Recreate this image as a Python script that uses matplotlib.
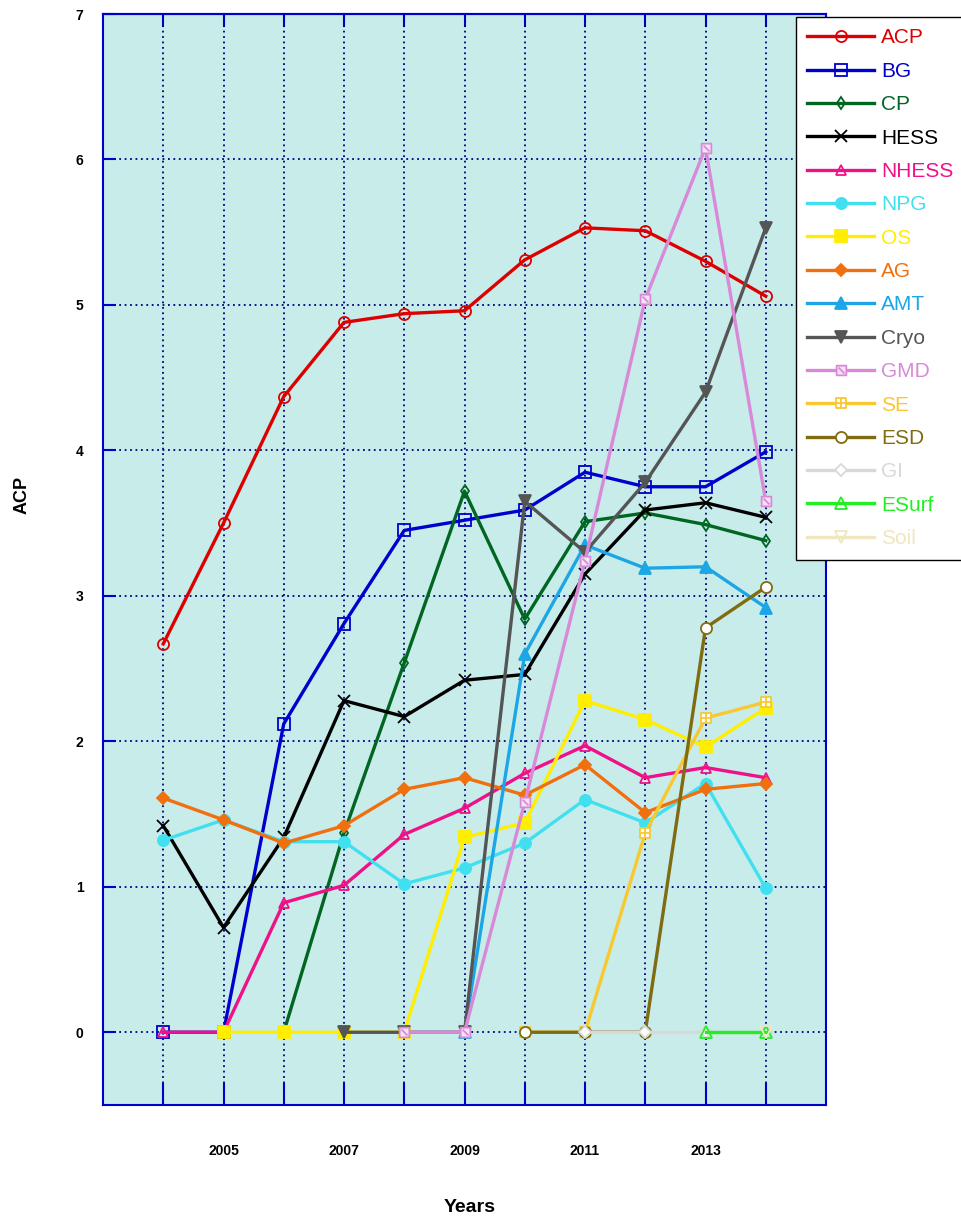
import numpy as np
import matplotlib
matplotlib.use('Agg')
import matplotlib.pyplot as plt
from matplotlib.path import Path

plt.rcParams['font.family'] = ['Liberation Sans', 'DejaVu Sans']

nan = np.nan
years = list(range(2004, 2015))

acp = [2.67, 3.50, 4.37, 4.88, 4.94, 4.96, 5.31, 5.53, 5.51, 5.30, 5.06]
bg = [0, 0, 2.12, 2.81, 3.45, 3.52, 3.59, 3.85, 3.75, 3.75, 3.99]
cp = [nan, nan, 0, 1.37, 2.54, 3.72, 2.84, 3.51, 3.57, 3.49, 3.38]
hess = [1.42, 0.72, 1.34, 2.28, 2.17, 2.42, 2.46, 3.15, 3.59, 3.64, 3.54]
nhess = [0, 0, 0.89, 1.01, 1.36, 1.54, 1.78, 1.97, 1.75, 1.82, 1.75]
npg = [1.32, 1.46, 1.31, 1.31, 1.02, 1.13, 1.30, 1.60, 1.44, 1.71, 0.99]
os_ = [nan, 0, 0, 0, 0, 1.34, 1.44, 2.28, 2.15, 1.96, 2.23]
ag = [1.61, 1.46, 1.30, 1.42, 1.67, 1.75, 1.63, 1.84, 1.51, 1.67, 1.71]
amt = [nan, nan, nan, nan, nan, 0, 2.60, 3.35, 3.19, 3.20, 2.92]
cryo = [nan, nan, nan, 0, 0, 0, 3.65, 3.30, 3.78, 4.40, 5.53]
gmd = [nan, nan, nan, nan, 0, 0, 1.58, 3.24, 5.04, 6.08, 3.65]
se = [nan, nan, nan, nan, nan, nan, 0, 0, 1.37, 2.16, 2.27]
esd = [nan, nan, nan, nan, nan, nan, 0, 0, 0, 2.78, 3.06]
gi = [nan, nan, nan, nan, nan, nan, nan, 0, 0, 0, 0]
esurf = [nan, nan, nan, nan, nan, nan, nan, nan, nan, 0, 0]
soil = [nan, nan, nan, nan, nan, nan, nan, nan, nan, nan, 0]

# square with a diagonal, square with a cross
sq_diag = Path([(-1, -1), (1, -1), (1, 1), (-1, 1), (-1, -1), (-0.6, 0.6), (0.6, -0.6)],
               [Path.MOVETO, Path.LINETO, Path.LINETO, Path.LINETO, Path.CLOSEPOLY,
                Path.MOVETO, Path.LINETO])
sq_cross = Path([(-1, -1), (1, -1), (1, 1), (-1, 1), (-1, -1), (0, -1), (0, 1), (-1, 0), (1, 0)],
                [Path.MOVETO, Path.LINETO, Path.LINETO, Path.LINETO, Path.CLOSEPOLY,
                 Path.MOVETO, Path.LINETO, Path.MOVETO, Path.LINETO])

series = [
    ('ACP', acp, '#dd0000', 'o', 'none', 8),
    ('BG', bg, '#0000cc', 's', 'none', 8),
    ('CP', cp, '#006622', 'd', 'none', 6),
    ('HESS', hess, '#000000', 'x', 'none', 8),
    ('NHESS', nhess, '#ee1188', '^', 'none', 7),
    ('NPG', npg, '#40e0f0', 'o', '#40e0f0', 8),
    ('OS', os_, '#ffee00', 's', '#ffee00', 8),
    ('AG', ag, '#f07010', 'D', '#f07010', 6),
    ('AMT', amt, '#1ca6e6', '^', '#1ca6e6', 8),
    ('Cryo', cryo, '#555555', 'v', '#555555', 8),
    ('GMD', gmd, '#d88ad8', sq_diag, '#f6e4f6', 7),
    ('SE', se, '#f8c830', sq_cross, 'white', 7),
    ('ESD', esd, '#806c10', 'o', 'white', 8),
    ('GI', gi, '#d8d8d8', 'D', 'white', 6),
    ('ESurf', esurf, '#22ee22', '^', 'none', 8),
    ('Soil', soil, '#f0e6c0', 'v', 'none', 8),
]

fig = plt.figure(figsize=(9.61, 12.18), dpi=100)
ax = fig.add_axes([103/961, 1-1105/1218, 723/961, 1091/1218])
ax.set_facecolor('#c8ecea')

for name, vals, col, mk, mfc, ms in series:
    ax.plot(years, vals, color=col, lw=2.4, marker=mk, ms=ms, mfc=mfc,
            mec=col, mew=1.3, label=name, zorder=3)

ax.set_xlim(2003, 2015)
ax.set_ylim(-0.5, 7)
ax.set_xticks(years)
ax.set_xticklabels([str(y) if y % 2 == 1 else '' for y in years],
                   fontsize=10, fontweight='bold')
ax.set_yticks(range(0, 8))
ax.set_yticklabels([str(v) for v in range(0, 8)], fontsize=10, fontweight='bold')
ax.tick_params(axis='x', direction='in', length=16, width=1.5, color='#0000cc', pad=28)
ax.tick_params(axis='y', direction='in', length=9, width=1.5, color='#0000cc', pad=14)
ax.grid(True, color='#000080', linestyle=(0, (1, 2)), lw=1.3)
ax.set_axisbelow(True)
for sp in ax.spines.values():
    sp.set_color('#0000cc')
    sp.set_linewidth(1.5)

top = ax.secondary_xaxis('top')
top.set_xticks(years)
top.set_xticklabels([])
top.tick_params(direction='in', length=9, width=1.5, color='#0000cc')
top.spines['top'].set_color('#0000cc')
top.spines['top'].set_linewidth(1.5)

fig.text(22/961, 1-495/1218, 'ACP', rotation=90, ha='center', va='center',
         fontsize=13, fontweight='bold')
fig.text(470/961, 1-1208/1218, 'Years', ha='center', va='center',
         fontsize=14, fontweight='bold')

leg = fig.legend(loc='upper left', bbox_to_anchor=(796/961, 1-17/1218),
                 bbox_transform=fig.transFigure, fontsize=15, numpoints=1,
                 handlelength=3.2, handletextpad=0.35, labelspacing=0.69,
                 borderpad=0.55, borderaxespad=0, fancybox=False,
                 framealpha=1, edgecolor='black')
leg.get_frame().set_linewidth(1)
for txt, s in zip(leg.get_texts(), series):
    txt.set_color(s[2])

fig.savefig('out.png', dpi=100)
